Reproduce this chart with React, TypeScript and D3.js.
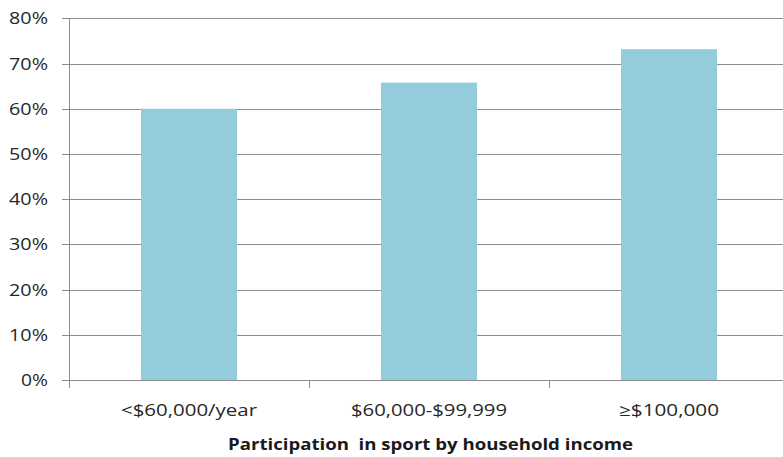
import React from "react";
import * as d3 from "d3";

const categories = ["<$60,000/year", "$60,000-$99,999", "≥$100,000"];
const values = [0.600, 0.658, 0.732];
const yTicks = [0, 0.1, 0.2, 0.3, 0.4, 0.5, 0.6, 0.7, 0.8];
const xTitle = "Participation  in sport by household income";
const catLabelWidths = [136, 156, 100];

const W = 783;
const H = 457;
const FONT = "'Open Sans', sans-serif";

export default function App() {
  const x = d3.scaleBand<string>().domain(categories).range([69, 789]).paddingInner(0.6).paddingOuter(0.3);
  const y = d3.scaleLinear().domain([0, 0.8]).range([380, 18.4]);
  const band = (789 - 69) / categories.length;
  const fmt = d3.format(".0%");
  return (
    <svg width={W} height={H} style={{ position: "absolute", left: 0, top: 0, background: "#fff" }}>
      {yTicks.map((t) => (
        <g key={t}>
          <line x1={62} x2={W} y1={Math.round(y(t)) + 0.5} y2={Math.round(y(t)) + 0.5} stroke="#8c8c8c" strokeWidth={1} />
          <text x={48} y={y(t)} dy="0.36em" textAnchor="end" fontFamily={FONT} fontSize={16.5} fill="#262626"
            textLength={t === 0 ? 27 : 39} lengthAdjust="spacingAndGlyphs">
            {fmt(t)}
          </text>
        </g>
      ))}
      {categories.map((c, i) => (
        <rect key={c} x={x(c)} y={y(values[i])} width={x.bandwidth()} height={y(0) - y(values[i])} fill="#93cddd" />
      ))}
      <line x1={69.5} x2={69.5} y1={18} y2={388} stroke="#8c8c8c" strokeWidth={1} />
      {categories.map((c, i) => (
        <line key={"t" + c} x1={69.5 + band * (i + 1)} x2={69.5 + band * (i + 1)} y1={380} y2={388} stroke="#8c8c8c" strokeWidth={1} />
      ))}
      {categories.map((c, i) => (
        <text key={"l" + c} x={(x(c) as number) + x.bandwidth() / 2} y={416} textAnchor="middle" fontFamily={FONT} fontSize={16.5} fill="#262626"
          textLength={catLabelWidths[i]} lengthAdjust="spacingAndGlyphs">
          {c}
        </text>
      ))}
      <text x={430.5} y={450} textAnchor="middle" fontFamily={FONT} fontSize={16.5} fontWeight="bold" fill="#1a1a1a" style={{ whiteSpace: "pre" }}
        textLength={405} lengthAdjust="spacingAndGlyphs">
        {xTitle}
      </text>
    </svg>
  );
}
